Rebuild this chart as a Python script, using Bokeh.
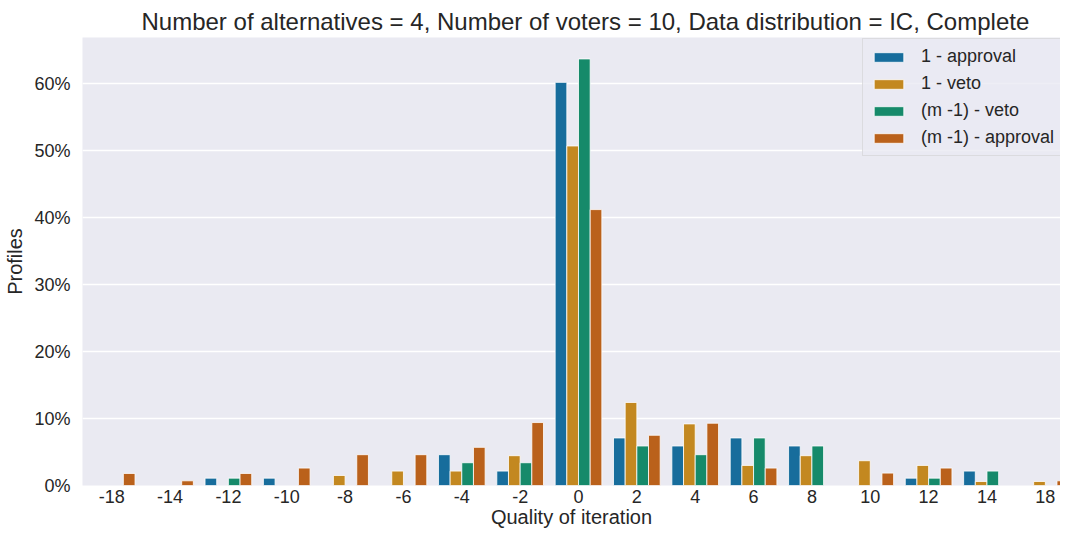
from bokeh.plotting import figure
from bokeh.models import ColumnDataSource, Range1d, FixedTicker, PrintfTickFormatter, Legend, LegendItem
from bokeh.embed import file_html
from bokeh.resources import INLINE

categories = ["-18", "-14", "-12", "-10", "-8", "-6", "-4", "-2", "0", "2", "4", "6", "8", "10", "12", "14", "18"]
series_names = ["1 - approval", "1 - veto", "(m -1) - veto", "(m -1) - approval"]
approval_1 = [0, 0, 1.1, 1.1, 0, 0, 4.6, 2.15, 60.2, 7.1, 5.9, 7.1, 5.9, 0, 1.1, 2.15, 0]
veto_1 = [0, 0, 0, 0, 1.5, 2.15, 2.15, 4.45, 50.7, 12.4, 9.2, 3.0, 4.45, 3.7, 3.0, 0.6, 0.6]
veto_m1 = [0, 0, 1.1, 0, 0, 0, 3.4, 3.4, 63.7, 5.9, 4.6, 7.1, 5.9, 0, 1.1, 2.15, 0]
approval_m1 = [1.8, 0.7, 1.8, 2.6, 4.6, 4.6, 5.7, 9.4, 41.2, 7.5, 9.3, 2.6, 0, 1.85, 2.6, 0, 0.7]
colors = ["#176D9C", "#C38820", "#168A6A", "#BA611B"]
y_ticks = [0, 10, 20, 30, 40, 50, 60]

FONT = "Liberation Sans"
TXT = "#262626"

left, top, bottom = 82, 37, 44
FW, FH = 978, 448

p = figure(frame_width=FW, frame_height=FH, output_backend="svg", toolbar_location=None,
           x_range=Range1d(-0.5, 16.26), y_range=Range1d(0, 66.9),
           min_border_left=left, min_border_right=0, min_border_top=top, min_border_bottom=bottom,
           title="Number of alternatives = 4, Number of voters = 10, Data distribution = IC, Complete")

p.background_fill_color = "#EAEAF2"
p.border_fill_color = "white"
p.outline_line_color = None

p.title.text_font = FONT
p.title.text_font_size = "24px"
p.title.text_font_style = "normal"
p.title.text_color = TXT
p.title.align = "left"
p.title.offset = 59
p.title.standoff = 6

series = [approval_1, veto_1, veto_m1, approval_m1]
offsets = [-0.3, -0.1, 0.1, 0.3]
items = []
for name, vals, col, off in zip(series_names, series, colors, offsets):
    xs = [i + off for i, v in enumerate(vals) if v > 0]
    ys = [v for v in vals if v > 0]
    src = ColumnDataSource(dict(x=xs, top=ys))
    r = p.vbar(x="x", top="top", bottom=0, width=0.2, source=src,
               fill_color=col, line_color="white", line_width=0.8)
    items.append(LegendItem(label=name, renderers=[r]))

p.xgrid.grid_line_color = None
p.ygrid.grid_line_color = "white"
p.ygrid.grid_line_width = 1.3
p.ygrid.ticker = FixedTicker(ticks=y_ticks)

p.xaxis.ticker = FixedTicker(ticks=list(range(len(categories))))
p.xaxis.major_label_overrides = {i: c for i, c in enumerate(categories)}
p.yaxis.ticker = FixedTicker(ticks=y_ticks)
p.yaxis.formatter = PrintfTickFormatter(format="%d%%")

for ax in (p.xaxis[0], p.yaxis[0]):
    ax.axis_line_color = None
    ax.major_tick_line_color = None
    ax.minor_tick_line_color = None
    ax.major_tick_out = 0
    ax.major_tick_in = 0
    ax.minor_tick_out = 0
    ax.minor_tick_in = 0
    ax.major_label_text_font = FONT
    ax.major_label_text_font_size = "18px"
    ax.major_label_text_color = TXT
    ax.axis_label_text_font = FONT
    ax.axis_label_text_font_size = "20px"
    ax.axis_label_text_font_style = "normal"
    ax.axis_label_text_color = TXT

p.xaxis.major_label_standoff = 4
p.yaxis.major_label_standoff = 12
p.xaxis.axis_label = "Quality of iteration"
p.yaxis.axis_label = "Profiles"
p.xaxis.axis_label_standoff = 0
p.yaxis.axis_label_standoff = 5

legend = Legend(items=items, location=(780, 329))
legend.label_text_font = FONT
legend.label_text_font_size = "18px"
legend.label_text_color = TXT
legend.glyph_width = 37
legend.glyph_height = 12
legend.label_standoff = 14
legend.label_height = 20
legend.spacing = 6
legend.padding = 7
legend.margin = 0
legend.background_fill_color = "#EAEAF2"
legend.background_fill_alpha = 0.8
legend.border_line_color = "#CCCCCC"
p.add_layout(legend, "center")

open("out.html", "w").write(file_html(p, INLINE))
